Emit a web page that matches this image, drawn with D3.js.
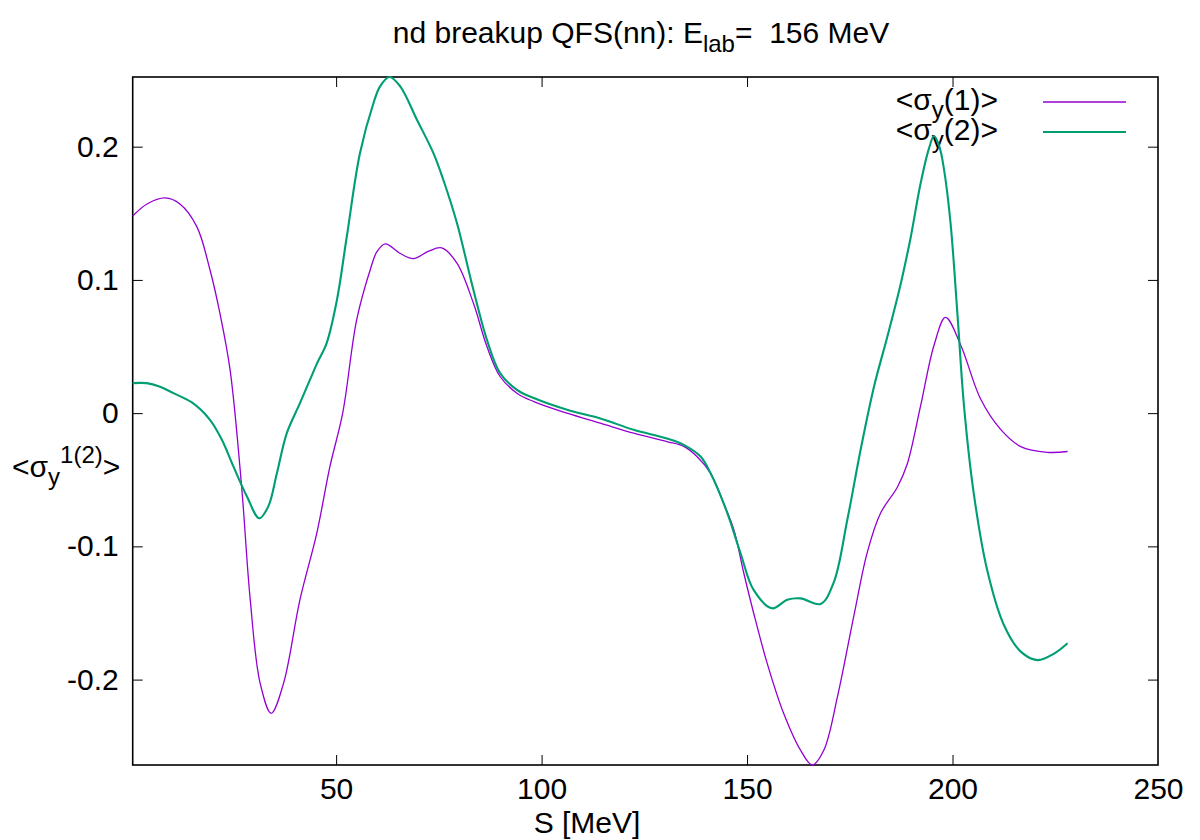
<!DOCTYPE html>
<html>
<head>
<meta charset="utf-8">
<script src="https://cdn.jsdelivr.net/npm/d3@7"></script>
<style>
  html, body { margin: 0; padding: 0; background: #fff; }
  svg { display: block; }
  text { font-family: "Liberation Sans", Arial, Helvetica, sans-serif; fill: #000; }
</style>
</head>
<body>
<svg id="chart" width="1200" height="840"></svg>
<script>
// ---- data ----
const s1 = [0.5, 4, 8.4, 12, 16.1, 19.3, 21.7, 24.2, 27.0, 29.1, 31.5, 34.2, 37.2, 41.2, 45.3, 48.5, 51.6, 55.0, 58.3, 59.9, 62.0, 65.5, 68.8, 72.4, 75.7, 79.4, 83.4, 86.7, 89.9, 94.0, 98.1, 106.2, 114.3, 122.4, 130.5, 134.6, 137.8, 141.1, 144.3, 146.8, 149.2, 151.6, 154.9, 158.9, 163.0, 165.9, 168.7, 172.0, 176.0, 179.3, 182.5, 186.6, 189.0, 192.2, 195.5, 198.3, 202.0, 206.8, 211.7, 216.6, 223.1, 228.0];
const v1 = [0.148, 0.157, 0.1615, 0.157, 0.140, 0.1076, 0.0753, 0.0325, -0.055, -0.140, -0.2026, -0.2253, -0.2028, -0.140, -0.090, -0.040, 0.000, 0.070, 0.1076, 0.121, 0.127, 0.120, 0.116, 0.1214, 0.124, 0.1126, 0.0826, 0.050, 0.0275, 0.015, 0.0087, 0.000, -0.0075, -0.015, -0.0213, -0.025, -0.0326, -0.045, -0.0676, -0.0876, -0.120, -0.150, -0.1878, -0.2253, -0.2529, -0.2641, -0.2529, -0.2128, -0.152, -0.104, -0.075, -0.0554, -0.038, 0.005, 0.051, 0.0719, 0.051, 0.0108, -0.0122, -0.0251, -0.0294, -0.0288];

const s2 = [0.5, 3.9, 7.0, 10.4, 14.9, 19.3, 22.2, 25.0, 28.3, 31.3, 33.5, 35.6, 38.0, 41.2, 43.7, 45.3, 47.7, 50.2, 52.6, 55.8, 59.1, 60.7, 63.0, 65.6, 69.7, 73.7, 76.1, 79.4, 83.4, 86.7, 89.9, 94.0, 98.1, 106.2, 114.3, 122.4, 130.5, 134.6, 138.7, 141.1, 145.2, 148.4, 151.6, 156.1, 159.8, 163.0, 167.9, 171.1, 174.4, 177.6, 180.9, 184.1, 187.4, 189.8, 192.2, 194.2, 195.5, 196.8, 197.9, 199.5, 201.2, 202.8, 205.2, 208.5, 212.5, 216.6, 220.7, 224.7, 228.0];
const v2 = [0.0225, 0.0225, 0.020, 0.015, 0.008, -0.005, -0.020, -0.040, -0.0626, -0.0789, -0.070, -0.045, -0.015, 0.0075, 0.0255, 0.037, 0.0526, 0.085, 0.1326, 0.195, 0.2328, 0.2453, 0.2523, 0.2453, 0.220, 0.195, 0.175, 0.1427, 0.0926, 0.055, 0.030, 0.0175, 0.0113, 0.0025, -0.004, -0.0125, -0.019, -0.0238, -0.0326, -0.045, -0.075, -0.105, -0.1327, -0.1465, -0.140, -0.139, -0.1432, -0.127, -0.080, -0.028, 0.020, 0.057, 0.0972, 0.1317, 0.172, 0.198, 0.208, 0.200, 0.1835, 0.1432, 0.0741, 0.0051, -0.061, -0.1187, -0.159, -0.179, -0.1854, -0.1805, -0.1727];

const xTicks = [50, 100, 150, 200, 250];
const yTicks = [-0.2, -0.1, 0, 0.1, 0.2];
const yTickLabels = ["-0.2", "-0.1", "0", "0.1", "0.2"];
const xMax = 250;

// ---- layout ----
const pL = 132.7, pR = 1158, pT = 77, pB = 765;
const FS = 30, FSS = 24;
const colors = ["#9400d3", "#009e73"];
const widths = [1.3, 2.1];

const svg = d3.select("#chart");

const x = d3.scaleLinear()
  .domain([d3.min(s1.concat(s2)), xMax])
  .range([pL, pR]);
const y = d3.scaleLinear()
  .domain(d3.extent(v1.concat(v2)))
  .range([pB, pT]);

// axes (ticks inward, gnuplot style)
const fmtY = d => yTickLabels[yTicks.indexOf(d)];
const gx = svg.append("g").attr("transform", `translate(0,${pB})`)
  .call(d3.axisBottom(x).tickValues(xTicks).tickSizeInner(-10).tickSizeOuter(0).tickPadding(13).tickFormat(d3.format("d")));
const gy = svg.append("g").attr("transform", `translate(${pL},0)`)
  .call(d3.axisLeft(y).tickValues(yTicks).tickSizeInner(-10).tickSizeOuter(0).tickPadding(14).tickFormat(fmtY));
const gt = svg.append("g").attr("transform", `translate(0,${pT})`)
  .call(d3.axisTop(x).tickValues(xTicks.filter(d => d < xMax)).tickSizeInner(-10).tickSizeOuter(0).tickFormat(""));
const gr = svg.append("g").attr("transform", `translate(${pR},0)`)
  .call(d3.axisRight(y).tickValues(yTicks).tickSizeInner(-10).tickSizeOuter(0).tickFormat(""));

[gx, gy, gt, gr].forEach(g => {
  g.select(".domain").remove();
  g.selectAll(".tick line").attr("stroke", "#000").attr("stroke-width", 1);
  g.selectAll("text").attr("font-size", FS).attr("font-family", '"Liberation Sans", Arial, sans-serif').attr("fill", "#000");
});
gx.selectAll(".tick").filter(d => d === xMax).select("line").remove();

// frame
svg.append("rect")
  .attr("x", pL).attr("y", pT)
  .attr("width", pR - pL).attr("height", pB - pT)
  .attr("fill", "none").attr("stroke", "#000").attr("stroke-width", 1.6);

// title
const title = svg.append("text").attr("x", 641).attr("y", 43)
  .attr("text-anchor", "middle").attr("font-size", FS)
  .style("white-space", "pre").attr("xml:space", "preserve");
title.append("tspan").text("nd breakup QFS(nn): E");
title.append("tspan").attr("font-size", FSS).attr("dy", 9).text("lab");
title.append("tspan").attr("dy", -9).text("=  156 MeV");

// x label
svg.append("text").attr("x", 587).attr("y", 833)
  .attr("text-anchor", "middle").attr("font-size", FS).text("S [MeV]");

// y label
const yl = svg.append("text").attr("x", 12).attr("y", 477).attr("font-size", FS);
yl.append("tspan").text("<σ");
yl.append("tspan").attr("font-size", FSS).attr("dy", 8).text("y");
yl.append("tspan").attr("font-size", FSS).attr("dy", -22).text("1(2)");
yl.append("tspan").attr("dy", 14).text(">");

// legend
const legendNames = ["1", "2"];
legendNames.forEach((n, i) => {
  const by = 110 + i * 30;
  const t = svg.append("text").attr("x", 998).attr("y", by)
    .attr("text-anchor", "end").attr("font-size", FS);
  t.append("tspan").text("<σ");
  t.append("tspan").attr("font-size", FSS).attr("dy", 8).text("y");
  t.append("tspan").attr("dy", -8).text(`(${n})>`);
  svg.append("line")
    .attr("x1", 1043).attr("x2", 1126)
    .attr("y1", by - 8).attr("y2", by - 8)
    .attr("stroke", colors[i]).attr("stroke-width", widths[i]);
});

// curves
const line = d3.line().x(d => x(d[0])).y(d => y(d[1])).curve(d3.curveCatmullRom.alpha(0.5));
const series = [d3.zip(s1, v1), d3.zip(s2, v2)];
series.forEach((data, i) => {
  svg.append("path")
    .datum(data)
    .attr("d", line)
    .attr("fill", "none")
    .attr("stroke", colors[i])
    .attr("stroke-width", widths[i])
    .attr("stroke-linejoin", "round");
});
</script>
</body>
</html>
